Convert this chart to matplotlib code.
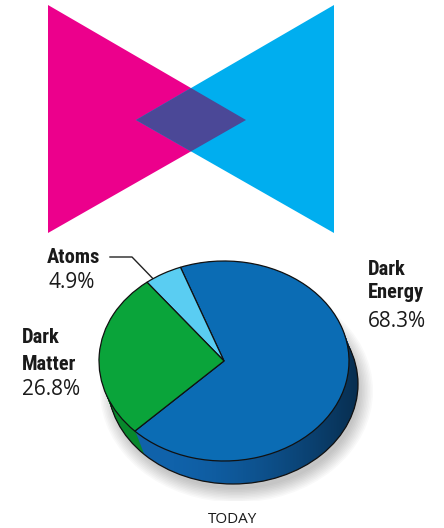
import numpy as np
import matplotlib
matplotlib.use("Agg")
import matplotlib.pyplot as plt
from matplotlib.patches import Polygon, Ellipse, Circle

# bow-tie logo: two triangles meeting in the middle
left_tri = [(48, 5), (48, 233), (246, 120)]
right_tri = [(334, 5), (334, 233), (136, 120)]

# pie data
labels = ["Dark\nEnergy", "Atoms", "Dark\nMatter"]
shares = [68.3, 4.9, 26.8]
top_colors = ["#0b6cb4", "#5acdf2", "#0aa43a"]
side_colors = ["#1062aa", "#3aa8d2", "#08882c"]

fig = plt.figure(figsize=(4.44, 5.28), dpi=100)
ax0 = fig.add_axes([0, 0, 1, 1])
ax0.set_xlim(0, 444)
ax0.set_ylim(528, 0)
ax0.axis("off")

ax0.add_patch(Polygon(left_tri, closed=True, fc="#ec008c", ec="none"))
ax0.add_patch(Polygon(right_tri, closed=True, fc="#00aeef", ec="none"))


def cross(p1, p2, p3, p4):
    # intersection of line p1-p2 with line p3-p4
    p1, p2, p3, p4 = map(np.array, (p1, p2, p3, p4))
    d1, d2 = p2 - p1, p4 - p3
    t = np.cross(p3 - p1, d2) / np.cross(d1, d2)
    return p1 + t * d1


top_pt = cross(left_tri[0], left_tri[2], right_tri[0], right_tri[2])
bot_pt = cross(left_tri[1], left_tri[2], right_tri[1], right_tri[2])
diamond = [right_tri[2], top_pt, left_tri[2], bot_pt]
ax0.add_patch(Polygon(diamond, closed=True, fc="#4b4897", ec="none"))

# pie axes: 1 unit = 125 px across, 100 px down (tilted look)
cx, cy = 224, 361
rx, ry = 125, 100
lim = 1.4
ax = fig.add_axes([(cx - lim * rx) / 444, (528 - cy - lim * ry) / 528,
                   2 * lim * rx / 444, 2 * lim * ry / 528])

# soft shadow under the disc
for k in range(10):
    ax.add_patch(Ellipse((0.10, -0.30), 1.96 + 0.025 * k, 1.96 + 0.03 * k,
                         fc="#000000", ec="none", alpha=0.022, zorder=0))

start = 224.5
dx, dy = 0.072, -0.23
n = 24
for i in range(n, 0, -1):
    f = i / n
    w, _ = ax.pie(shares, colors=side_colors, startangle=start,
                  radius=1, center=(dx * f, dy * f),
                  wedgeprops=dict(linewidth=0))
    for p in w:
        p.set_zorder(1)

# darken the side towards the right
th = np.linspace(0, 2 * np.pi, 400)
push = (np.cos(th) * dx + np.sin(th) * dy) > 0
hull = np.c_[np.cos(th) + dx * push, np.sin(th) + dy * push]
side = Polygon(hull, closed=True, fc="none", ec="none")
ax.add_patch(side)
shade = np.zeros((2, 256, 4))
xs = np.linspace(0, 1, 256)
shade[..., 3] = 0.55 * np.clip((xs - 0.25) / 0.75, 0, 1) ** 1.6
img = ax.imshow(shade, extent=(-1.0, 1.1, -1.3, 1.0), origin="lower",
                aspect="auto", zorder=2, interpolation="bilinear")
img.set_clip_path(side)

# outline of the bottom rim
ax.add_patch(Circle((dx, dy), 1, fc="none", ec="#111111", lw=0.9, zorder=2.5))

wedges, _ = ax.pie(shares, colors=top_colors, startangle=start, radius=1,
                   wedgeprops=dict(linewidth=0.9, edgecolor="#111111"))
for p in wedges:
    p.set_zorder(3)

ax.set_aspect("auto")
ax.set_xlim(-lim, lim)
ax.set_ylim(-lim, lim)
ax.axis("off")

name_font = dict(family=["Roboto Condensed", "Liberation Sans Narrow", "Roboto", "DejaVu Sans"],
                 fontweight="bold", fontsize=14.8, color="#1a1a1a")
pct_font = dict(family=["Open Sans", "DejaVu Sans"], fontsize=15, color="#1a1a1a")

ax0.text(47, 263, "Atoms", **name_font)
ax0.text(48, 288, "4.9%", **pct_font)
ax0.text(22, 343, "Dark", **name_font)
ax0.text(22, 370, "Matter", **name_font)
ax0.text(22, 395, "26.8%", **pct_font)
ax0.text(368, 275, "Dark", **name_font)
ax0.text(368, 298, "Energy", **name_font)
ax0.text(368, 327, "68.3%", **pct_font)
ax0.text(232, 523, "TODAY", ha="center", family=["Open Sans", "DejaVu Sans"],
         fontsize=11, color="#1a1a1a")

# leader line to the atoms slice
ax0.plot([110, 132, 162], [257, 257, 288], color="#222222", lw=1)

fig.savefig("out.png", dpi=100)
